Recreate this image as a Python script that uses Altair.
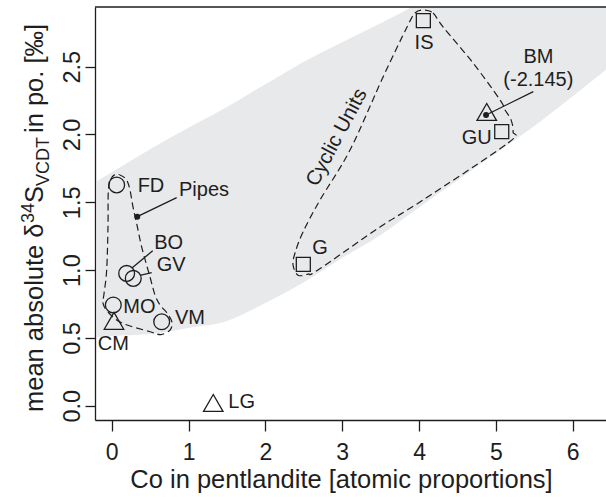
import altair as alt
import pandas as pd

FONT = "Liberation Sans"
INK = "#1e1e1e"
GRAY = "#e8e9eb"

# ---- data ----
circle_names = ["FD", "BO", "GV", "MO", "VM"]
circle_x = [0.065, 0.195, 0.281, 0.021, 0.651]
circle_y = [1.628, 0.976, 0.939, 0.743, 0.619]

square_names = ["IS", "GU", "G"]
square_x = [4.056, 5.076, 2.494]
square_y = [2.839, 2.021, 1.043]

triangle_names = ["CM", "LG", "BM"]
triangle_x = [0.030, 1.322, 4.881]
triangle_y = [0.626, 0.021, 2.166]

dot_names = ["Pipes", "BM"]
dot_x = [0.333, 4.872]
dot_y = [1.394, 2.144]

# leader lines (from, to)
leader_x = [0.333, 4.872, 0.260, 0.368]
leader_y = [1.394, 2.144, 1.013, 0.962]
leader_x2 = [0.846, 5.487, 0.534, 0.521]
leader_y2 = [1.534, 2.316, 1.143, 0.981]

# labels
left_labels = ["FD", "Pipes", "BO", "GV", "MO", "VM", "LG", "G"]
left_lx = [0.338, 0.876, 0.554, 0.586, 0.151, 0.824, 1.518, 2.611]
left_ly = [1.620, 1.591, 1.202, 1.038, 0.730, 0.645, 0.029, 1.161]
center_labels = ["CM", "IS", "BM", "(-2.145)"]
center_lx = [0.021, 4.065, 5.553, 5.553]
center_ly = [0.453, 2.673, 2.574, 2.402]
right_labels = ["GU"]
right_lx = [4.946]
right_ly = [1.972]

# gray band (upper / lower edge read at the same x positions)
band_x = [-0.19, 0.0, 0.5, 1.0, 1.5, 2.0, 2.5, 3.0, 3.5, 3.9, 4.5, 5.0, 5.5, 6.0, 6.5]
band_upper = [1.657, 1.722, 1.892, 2.050, 2.203, 2.370, 2.537, 2.681, 2.821, 2.940, 3.2, 3.2, 3.2, 3.2, 3.2]
band_lower = [0.507, 0.514, 0.529, 0.574, 0.625, 0.758, 0.911, 1.089, 1.259, 1.422, 1.662, 1.862, 2.063, 2.282, 2.507]

# dashed group outlines
pipes_x = [-0.044, -0.016, 0.043, 0.121, 0.195, 0.238, 0.277, 0.329, 0.394, 0.499, 0.564, 0.629,
           0.720, 0.785, 0.759, 0.642, 0.512, 0.134, -0.048, -0.113, -0.100, -0.065, -0.048]
pipes_y = [1.578, 1.664, 1.705, 1.698, 1.664, 1.591, 1.468, 1.333, 1.163, 0.949, 0.816, 0.743,
           0.684, 0.617, 0.558, 0.525, 0.544, 0.610, 0.691, 0.757, 0.824, 1.001, 1.318]
cyclic_x = [4.052, 4.182, 4.312, 4.703, 5.054, 5.119, 5.197, 5.223, 5.158, 4.052, 3.492, 2.685,
            2.555, 2.425, 2.360, 2.386, 2.490, 2.711, 3.102, 3.532, 3.844, 3.948]
cyclic_y = [2.918, 2.896, 2.793, 2.527, 2.255, 2.181, 2.108, 2.019, 1.937, 1.517, 1.318, 1.001,
            0.971, 0.963, 1.038, 1.126, 1.281, 1.517, 1.886, 2.424, 2.793, 2.896]

x_ticks = [0, 1, 2, 3, 4, 5, 6]
y_ticks = [0.0, 0.5, 1.0, 1.5, 2.0, 2.5]

# ---- chart ----
W, H = 511, 413
xs = alt.Scale(domain=[-0.217, 6.433], nice=False, zero=False)
ys = alt.Scale(domain=[-0.105, 2.94], nice=False, zero=False)

xaxis = alt.Axis(values=x_ticks, format="d", title="Co in pentlandite [atomic proportions]",
                 grid=False, domainColor=INK, domainWidth=1.3, tickColor=INK, tickWidth=1.3,
                 tickSize=11, labelFontSize=23, labelFont=FONT, labelColor=INK, labelPadding=10,
                 titleFont=FONT, titleFontSize=25.5, titleFontWeight="normal", titleColor=INK,
                 titleBaseline="alphabetic", titleY=67, titleX=246, titleAlign="center")
yaxis = alt.Axis(values=y_ticks, format=".1f", title=None, grid=False, domainColor=INK,
                 domainWidth=1.3, tickColor=INK, tickWidth=1.3, tickSize=10, labelFontSize=23.5,
                 labelFont=FONT, labelColor=INK, labelAngle=270, labelAlign="center",
                 labelBaseline="alphabetic", labelPadding=6)


def X(f="x"):
    return alt.X(f, type="quantitative", scale=xs, axis=xaxis)


def Y(f="y"):
    return alt.Y(f, type="quantitative", scale=ys, axis=yaxis)


band = pd.DataFrame({"x": band_x, "y": band_upper, "y2": band_lower})
area = alt.Chart(band).mark_area(color=GRAY, opacity=1, clip=True, interpolate="monotone").encode(
    x=X(), y=Y(), y2="y2")

outl = pd.concat([
    pd.DataFrame({"x": pipes_x, "y": pipes_y, "g": "Pipes", "o": range(len(pipes_x))}),
    pd.DataFrame({"x": cyclic_x, "y": cyclic_y, "g": "Cyclic", "o": range(len(cyclic_x))}),
])
outlines = alt.Chart(outl).mark_line(color=INK, strokeWidth=1.2, strokeDash=[7, 4],
                                     interpolate="cardinal-closed").encode(
    x=X(), y=Y(), detail="g:N", order="o:Q")

lead = pd.DataFrame({"x": leader_x, "y": leader_y, "x2": leader_x2, "y2": leader_y2})
leaders = alt.Chart(lead).mark_rule(color=INK, strokeWidth=1.3).encode(x=X(), y=Y(), x2="x2", y2="y2")

circ = alt.Chart(pd.DataFrame({"x": circle_x, "y": circle_y, "n": circle_names})).mark_point(
    shape="circle", filled=False, size=250, color=INK, strokeWidth=1.3, opacity=1).encode(x=X(), y=Y())
sq = alt.Chart(pd.DataFrame({"x": square_x, "y": square_y, "n": square_names})).mark_point(
    shape="square", filled=False, size=196, color=INK, strokeWidth=1.3, opacity=1).encode(x=X(), y=Y())
tri = alt.Chart(pd.DataFrame({"x": triangle_x, "y": triangle_y, "n": triangle_names})).mark_point(
    shape="triangle-up", filled=False, size=380, color=INK, strokeWidth=1.3, opacity=1).encode(x=X(), y=Y())
dots = alt.Chart(pd.DataFrame({"x": dot_x, "y": dot_y, "n": dot_names})).mark_point(
    shape="circle", filled=True, size=36, color=INK, opacity=1).encode(x=X(), y=Y())


def labels(names, lx, ly, align):
    return alt.Chart(pd.DataFrame({"x": lx, "y": ly, "t": names})).mark_text(
        align=align, baseline="middle", font=FONT, fontSize=20, color=INK).encode(
        x=X(), y=Y(), text="t:N")


lab_l = labels(left_labels, left_lx, left_ly, "left")
lab_c = labels(center_labels, center_lx, center_ly, "center")
lab_r = labels(right_labels, right_lx, right_ly, "right")

cyc_txt = alt.Chart(pd.DataFrame({"x": [2.93], "y": [1.978], "t": ["Cyclic Units"]})).mark_text(
    angle=298, align="center", baseline="middle", font=FONT, fontSize=20.5, color=INK).encode(
    x=X(), y=Y(), text="t:N")

one = pd.DataFrame({"a": [0]})


def ypiece(text, px, py, size):
    return alt.Chart(one).mark_text(text=text, angle=270, align="left", baseline="alphabetic",
                                    font=FONT, fontSize=size, color=INK).encode(
        x=alt.value(px), y=alt.value(py))


ytitle = [
    ypiece("mean absolute δ", -52, 405, 25.5),
    ypiece("34", -61, 216, 18),
    ypiece("S", -52, 196, 25.5),
    ypiece("VCDT", -46, 179, 18),
    ypiece("in po. [‰]", -52, 126, 25.5),
]

top = alt.Chart(one).mark_rule(color=INK, strokeWidth=1.3).encode(
    x=alt.value(0), x2=alt.value(W), y=alt.value(0))

chart = alt.layer(area, outlines, leaders, circ, sq, tri, dots, lab_l, lab_c, lab_r, cyc_txt,
                  *ytitle, top).properties(
    width=W, height=H, autosize=alt.AutoSizeParams(type="none"),
    padding={"left": 95, "top": 7, "right": 0, "bottom": 80},
    background="white",
).configure_view(stroke=None)

chart.save("out.html", embed_options={"renderer": "svg", "actions": False})
